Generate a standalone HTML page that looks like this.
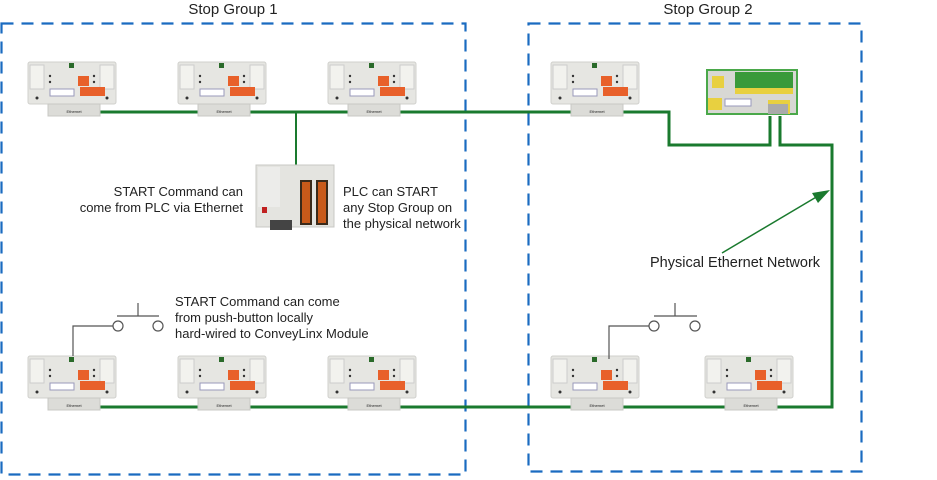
<!DOCTYPE html>
<html><head><meta charset="utf-8"><style>
html,body{margin:0;padding:0;background:#fff;}
svg{display:block;}
text{font-family:"Liberation Sans",sans-serif;fill:#222;}
</style></head><body>
<svg width="937" height="480" viewBox="0 0 937 480" xmlns="http://www.w3.org/2000/svg">
<defs>
<g id="mod">
  <rect x="0" y="0" width="88" height="42" rx="2" fill="#e6e6e2" stroke="#d0d0cc"/>
  <rect x="2" y="3" width="14" height="24" fill="#f2f2ee" stroke="#ccc"/>
  <rect x="72" y="3" width="14" height="24" fill="#f2f2ee" stroke="#ccc"/>
  <rect x="41" y="1" width="5" height="5" fill="#2a6a2a"/>
  <rect x="50" y="14" width="11" height="10" fill="#e8602a"/>
  <rect x="52" y="25" width="25" height="9" fill="#e8602a"/>
  <rect x="22" y="27" width="24" height="7" fill="#fff" stroke="#99b"/>
  <circle cx="22" cy="14" r="1.2" fill="#333"/><circle cx="66" cy="14" r="1.2" fill="#333"/>
  <circle cx="22" cy="20" r="1.2" fill="#333"/><circle cx="66" cy="20" r="1.2" fill="#333"/>
  <circle cx="9" cy="36" r="1.5" fill="#333"/><circle cx="79" cy="36" r="1.5" fill="#333"/>
  <rect x="20" y="42" width="52" height="12" fill="#dcdcd8" stroke="#c8c8c4"/>
  <text x="46" y="51" font-size="4" text-anchor="middle">Ethernet</text>
</g>
</defs>
<rect x="1.5" y="23.5" width="464" height="451" fill="none" stroke="#1a6bc0" stroke-width="2.2" stroke-dasharray="12,8"/>
<rect x="528.5" y="23.5" width="333" height="448" fill="none" stroke="#1a6bc0" stroke-width="2.2" stroke-dasharray="12,8"/>
<text x="233" y="14" font-size="15" text-anchor="middle">Stop Group 1</text>
<text x="708" y="14" font-size="15" text-anchor="middle">Stop Group 2</text>
<g fill="none" stroke="#1a7a2e" stroke-width="3">
  <polyline points="100,112 669,112 669,145 770,145 770,116"/>
  <polyline points="780,116 780,145 832,145 832,407 100,407"/>
  <line x1="296" y1="112" x2="296" y2="165" stroke-width="2"/>
</g>
<line x1="722" y1="253" x2="818" y2="196" stroke="#1a7a2e" stroke-width="1.5"/>
<polygon points="830,190 812,193 818,203" fill="#1a7a2e"/>
<use href="#mod" x="28" y="62"/><use href="#mod" x="178" y="62"/><use href="#mod" x="328" y="62"/><use href="#mod" x="551" y="62"/>
<use href="#mod" x="28" y="356"/><use href="#mod" x="178" y="356"/><use href="#mod" x="328" y="356"/><use href="#mod" x="551" y="356"/><use href="#mod" x="705" y="356"/>
<rect x="707" y="70" width="90" height="44" fill="#d8d8d4" stroke="#4aa84a" stroke-width="2"/>
<rect x="735" y="72" width="58" height="16" fill="#3a9a3a"/>
<rect x="735" y="88" width="58" height="6" fill="#e8d040"/>
<rect x="712" y="76" width="12" height="12" fill="#e8d040"/>
<rect x="708" y="98" width="14" height="12" fill="#e8d040"/>
<rect x="725" y="99" width="26" height="7" fill="#fff" stroke="#99b"/>
<rect x="768" y="100" width="22" height="14" fill="#e8d040"/>
<rect x="768" y="104" width="20" height="10" fill="#aaa"/>
<rect x="256" y="165" width="78" height="62" fill="#e4e4e0" stroke="#c8c8c4"/>
<rect x="258" y="167" width="22" height="40" fill="#ececea"/>
<rect x="300" y="180" width="12" height="45" fill="#3a2a1a"/><rect x="302" y="182" width="8" height="41" fill="#c85a1a"/>
<rect x="316" y="180" width="12" height="45" fill="#3a2a1a"/><rect x="318" y="182" width="8" height="41" fill="#c85a1a"/>
<rect x="262" y="207" width="5" height="6" fill="#c02020"/>
<rect x="270" y="220" width="22" height="10" fill="#444"/>
<g fill="none" stroke="#555" stroke-width="1.2">
  <polyline points="73,356 73,326 113,326"/>
  <circle cx="118" cy="326" r="5"/><circle cx="158" cy="326" r="5"/>
  <line x1="117" y1="316" x2="159" y2="316"/><line x1="138" y1="303" x2="138" y2="316"/>
  <polyline points="609,359 609,326 649,326"/>
  <circle cx="654" cy="326" r="5"/><circle cx="695" cy="326" r="5"/>
  <line x1="654" y1="316" x2="697" y2="316"/><line x1="675" y1="303" x2="675" y2="316"/>
</g>
<g font-size="13">
<text x="243" y="196" text-anchor="end">START Command can</text>
<text x="243" y="212" text-anchor="end">come from PLC via Ethernet</text>
<text x="343" y="196">PLC can START</text>
<text x="343" y="212">any Stop Group on</text>
<text x="343" y="228">the physical network</text>
<text x="175" y="306">START Command can come</text>
<text x="175" y="322">from push-button locally</text>
<text x="175" y="338">hard-wired to ConveyLinx Module</text>
<text x="650" y="267" font-size="14.5">Physical Ethernet Network</text>
</g>
</svg>
</body></html>
